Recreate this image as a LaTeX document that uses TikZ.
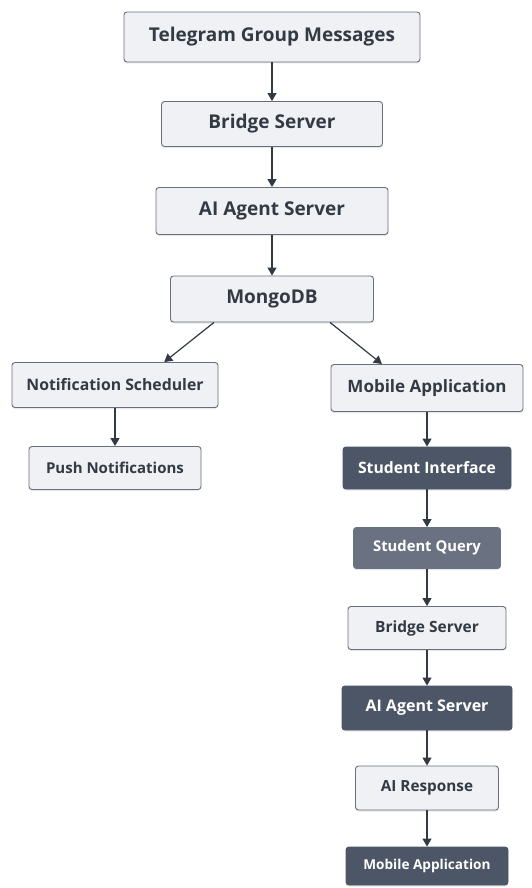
\documentclass[tikz,border=0pt]{standalone}
\usepackage{fontspec}
\setmainfont{Open Sans}
\usetikzlibrary{arrows.meta,shadows}
\definecolor{cloud}{RGB}{239, 241, 244}
\definecolor{steel}{RGB}{104, 111, 122}
\definecolor{ink}{RGB}{52, 58, 68}
\definecolor{slate}{RGB}{77, 86, 102}
\definecolor{slatelight}{RGB}{106, 114, 130}

\tikzset{
  flowbox/.style={draw=steel, line width=0.9pt, fill=cloud, text=ink, rounded corners=3pt,
    inner sep=0pt, drop shadow={opacity=0.18, shadow xshift=0pt, shadow yshift=-1.5pt}},
  darkbox/.style={flowbox, draw=slate, fill=slate, text=white},
  textsize/.style={font=\bfseries\fontsize{#1}{#1}\selectfont},
  flowarrow/.style={draw=ink, line width=1.2pt, -{Triangle[width=9pt,length=8pt]}},
}

\begin{document}
\begin{tikzpicture}[x=1pt, y=-1pt]
            \useasboundingbox (0,0) rectangle (531,888);
            % Ingest chain
            \node[flowbox, textsize=19, minimum width=296pt, minimum height=50pt] (telegram) at (272, 37) {Telegram Group Messages};
            \node[flowbox, textsize=19, minimum width=221pt, minimum height=45pt] (bridge)   at (272,124) {Bridge Server};
            \node[flowbox, textsize=19, minimum width=232pt, minimum height=47pt] (agent)    at (272,211) {AI Agent Server};
            \node[flowbox, textsize=19, minimum width=203pt, minimum height=46pt] (mongo)    at (272,299) {MongoDB};
            % Notification branch
            \node[flowbox, textsize=15.8, minimum width=206pt, minimum height=45pt] (scheduler) at (115,385) {Notification Scheduler};
            \node[flowbox, textsize=15,   minimum width=172pt, minimum height=43pt] (push)      at (115,468) {Push Notifications};
            % Student branch
            \node[flowbox, textsize=17,   minimum width=192pt, minimum height=47pt] (mobile)    at (427,388) {Mobile Application};
            \node[darkbox, textsize=15.7, minimum width=168pt, minimum height=42pt] (interface) at (427,468) {Student Interface};
            \node[darkbox, textsize=14.8, minimum width=147pt, minimum height=41pt, fill=slatelight, draw=slatelight] (query) at (427,548) {Student Query};
            \node[flowbox, textsize=15.5, minimum width=158pt, minimum height=43pt] (bridgeq)   at (427,628) {Bridge Server};
            \node[darkbox, textsize=16,   minimum width=170pt, minimum height=44pt] (agentq)    at (427,708) {AI Agent Server};
            \node[flowbox, textsize=15.3, minimum width=143pt, minimum height=44pt] (response)  at (427,788) {AI Response};
            \node[darkbox, textsize=13.6, minimum width=162pt, minimum height=38pt] (mobileq)   at (427,866) {Mobile Application};
            % Connectors
            \draw[flowarrow] (telegram) -- (bridge);
            \draw[flowarrow] (bridge)   -- (agent);
            \draw[flowarrow] (agent)    -- (mongo);
            \draw[flowarrow] (mongo.-158) -- (scheduler.25);
            \draw[flowarrow] (mongo.-22)  -- (mobile.152);
            \draw[flowarrow] (scheduler) -- (push);
            \draw[flowarrow] (mobile)    -- (interface);
            \draw[flowarrow] (interface) -- (query);
            \draw[flowarrow] (query)     -- (bridgeq);
            \draw[flowarrow] (bridgeq)   -- (agentq);
            \draw[flowarrow] (agentq)    -- (response);
            \draw[flowarrow] (response)  -- (mobileq);
        \end{tikzpicture}
\end{document}
